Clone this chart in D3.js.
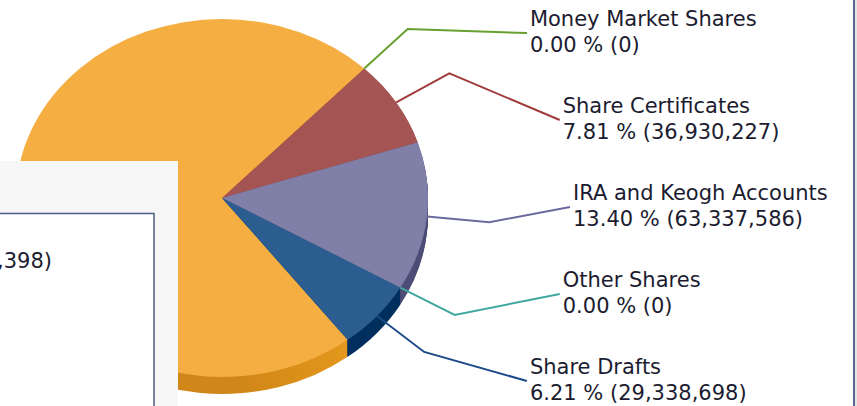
<!DOCTYPE html>
<html>
<head>
<meta charset="utf-8">
<script src="https://cdn.jsdelivr.net/npm/d3@7"></script>
<style>
  body { margin: 0; background: #fff; }
  text { font-family: "DejaVu Sans", Verdana, sans-serif; }
</style>
</head>
<body>
<div id="chart"></div>
<script>
const categories = ["Regular Shares", "Money Market Shares", "Share Certificates",
  "IRA and Keogh Accounts", "Other Shares", "Share Drafts"];
const values = [343064398, 0, 36930227, 63337586, 0, 29338698];
const topColors = ["#f5ae42", "#6aa336", "#a55454", "#7f7fa8", "#3fa9a2", "#2b5d91"];
const sideColors = ["#e0941e", "#4d7a25", "#7c3838", "#4e4e78", "#2a7a75", "#00305f"];
const lineColors = ["#f5ae42", "#67a030", "#a03c3c", "#6a6a9c", "#40a8a0", "#1f4a8a"];

const width = 857;
const height = 406;
const cx = 222, cy = 198;
const rx = 206, ry = 179;
const depth = 17;
const startDeg = 142.4;
const fontSize = 21;

const svg = d3.select("#chart").append("svg")
  .attr("width", width)
  .attr("height", height);

const defs = svg.append("defs");
const grad = defs.append("linearGradient")
  .attr("id", "orangeSide")
  .attr("gradientUnits", "userSpaceOnUse")
  .attr("x1", cx - rx).attr("x2", cx + rx).attr("y1", 0).attr("y2", 0);
[[0, "#d08618"], [0.45, "#f2a31f"], [0.7, "#e0941e"], [1, "#b87818"]].forEach(([o, c]) =>
  grad.append("stop").attr("offset", o).attr("stop-color", c));

const total = d3.sum(values);
const pie = d3.pie().sort(null).value((d) => d)
  .startAngle(startDeg * Math.PI / 180)
  .endAngle(startDeg * Math.PI / 180 + 2 * Math.PI);
const arcs = pie(values);
const arc = d3.arc().innerRadius(0).outerRadius(rx);

// side walls: stacked copies offset downward
for (let d = depth; d >= 1; d--) {
  svg.append("g")
    .attr("transform", `translate(${cx},${cy + d}) scale(1,${ry / rx})`)
    .selectAll("path")
    .data(arcs.filter((a) => a.value > 0))
    .join("path")
    .attr("d", arc)
    .attr("fill", (a) => a.index === 0 ? "url(#orangeSide)" : sideColors[a.index]);
}

svg.append("g")
  .attr("transform", `translate(${cx},${cy}) scale(1,${ry / rx})`)
  .selectAll("path")
  .data(arcs.filter((a) => a.value > 0))
  .join("path")
  .attr("d", arc)
  .attr("fill", (a) => topColors[a.index]);

// labels on right side
const labelled = arcs.filter((a) => a.index > 0);
const yScale = d3.scalePoint()
  .domain(labelled.map((a) => categories[a.index]))
  .range([33, 381]);
const labelRx = 348, labelRy = 361, labelCy = 207;
const labelX = (y) => cx + labelRx * Math.sqrt(1 - ((y - labelCy) / labelRy) ** 2);

const pt = (a, k) => {
  const m = (a.startAngle + a.endAngle) / 2;
  return [cx + k * rx * Math.sin(m), cy - k * ry * Math.cos(m)];
};

const pctFmt = d3.format(".2f");
const numFmt = d3.format(",");

labelled.forEach((a) => {
  const y = yScale(categories[a.index]);
  const x = labelX(y);
  const p0 = pt(a, 1);
  const p1 = pt(a, 1.305);
  svg.append("path")
    .attr("d", d3.line()([p0, p1, [x, y]]))
    .attr("fill", "none")
    .attr("stroke", lineColors[a.index])
    .attr("stroke-width", 2);
  const t = svg.append("text")
    .attr("x", x + 3)
    .attr("y", y)
    .attr("font-size", fontSize)
    .attr("fill", "#1c1c30");
  t.append("tspan").attr("x", x + 3).attr("dy", -7).text(categories[a.index]);
  t.append("tspan").attr("x", x + 3).attr("dy", 26)
    .text(`${pctFmt(a.value / total * 100)} % (${numFmt(a.value)})`);
});

// overlapping legend panel on the left
svg.append("rect")
  .attr("x", 0).attr("y", 161).attr("width", 178).attr("height", 250)
  .attr("fill", "#f7f7f7");
svg.append("rect")
  .attr("x", -3).attr("y", 213.5).attr("width", 157).attr("height", 200)
  .attr("fill", "#fff")
  .attr("stroke", "#4b5d85")
  .attr("stroke-width", 1.5);
svg.append("text")
  .attr("x", 52).attr("y", 268)
  .attr("text-anchor", "end")
  .attr("font-size", fontSize)
  .attr("fill", "#1c1c30")
  .text(`${categories[0]} ${pctFmt(values[0] / total * 100)} % (${numFmt(values[0])})`);

// right frame edge
svg.append("rect")
  .attr("x", 855).attr("y", 0).attr("width", 2).attr("height", height)
  .attr("fill", "#e4e4e4");
svg.append("line")
  .attr("x1", 854).attr("x2", 854).attr("y1", 0).attr("y2", height)
  .attr("stroke", "#5b6b8f").attr("stroke-width", 2);
</script>
</body>
</html>
